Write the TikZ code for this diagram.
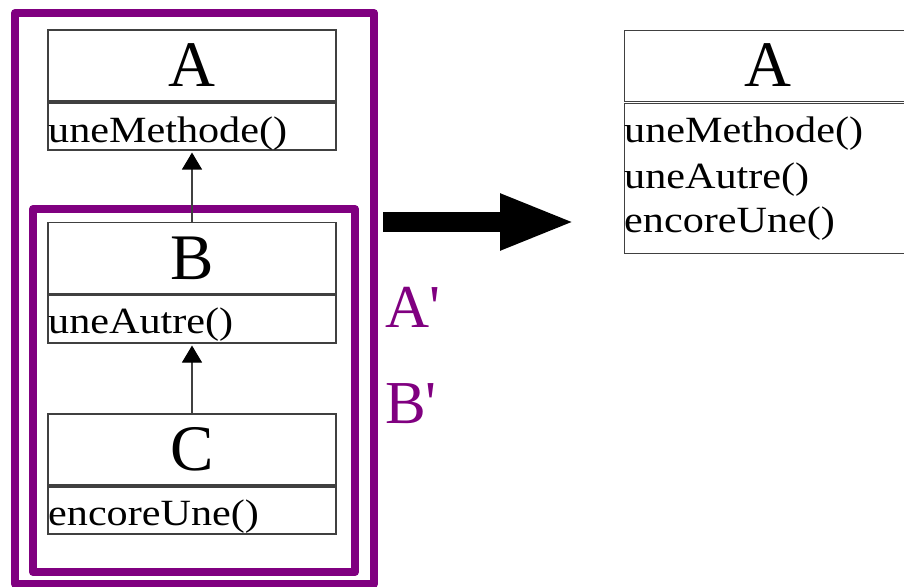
\documentclass[tikz,border=0pt]{standalone}
\usepackage{fontspec}
\setmainfont{Liberation Serif}
\newfontfamily\methfont[FakeStretch=1.14]{Liberation Serif}
\newfontfamily\labelfont[Ligatures=TeXOff]{Liberation Serif}
\usetikzlibrary{arrows.meta}
\definecolor{umlpurple}{HTML}{800080}
\definecolor{umlgray}{HTML}{404040}
\tikzset{
  classbox/.style={draw=umlgray, line width=1.1bp, inner sep=0pt, minimum width=288bp},
  titletext/.style={inner sep=0pt, font=\fontsize{65bp}{65bp}\selectfont},
  methtext/.style={inner sep=0pt, anchor=base west, font=\methfont\fontsize{37bp}{37bp}\selectfont},
  group/.style={draw=umlpurple, line width=8bp, line join=round},
  grouplabel/.style={inner sep=0pt, anchor=base west, text=umlpurple, font=\labelfont\fontsize{61bp}{61bp}\selectfont},
  inherit/.style={draw=umlgray, line width=1.1bp, -{Triangle[width=20bp 0,length=17bp 0,color=black,fill=black]}, shorten >=2bp},
  bigarrow/.style={draw=black, line width=20bp, -{Triangle[width=51bp 0,length=76bp 0]}}
}
\begin{document}
\begin{tikzpicture}[x=1bp,y=-1bp]
\useasboundingbox (0,0) rectangle (904,587);
\clip (0,0) rectangle (904,587);
% group frames
\draw[group] (15,13) rectangle (374,584);
\draw[group] (33,209) rectangle (355,572);
% class A
\node[classbox, minimum height=71bp] (Ah) at (192,65.5) {};
\node[titletext] at (Ah.center) {A};
\node[classbox, minimum height=47bp] (Am) at (192,126.5) {};
\node[methtext] (Amt) at (48,143) {uneMethode()};
% class B
\node[classbox, minimum height=71bp] (Bh) at (192,258) {};
\node[titletext] at (Bh.center) {B};
\node[classbox, minimum height=48bp] (Bm) at (192,319) {};
\node[methtext] (Bmt) at (48,333) {uneAutre()};
% class C
\node[classbox, minimum height=71bp] (Ch) at (192,449.5) {};
\node[titletext] at (Ch.center) {C};
\node[classbox, minimum height=47bp] (Cm) at (192,510.5) {};
\node[methtext] (Cmt) at (48,525) {encoreUne()};
% inheritance
\draw[inherit] (Bh.north) -- (Am.south);
\draw[inherit] (Ch.north) -- (Bm.south);
% labels
\node[grouplabel] (Ap) at (385,327) {A'};
\node[grouplabel] (Bp) at (385,423) {B'};
% big arrow
\coordinate (arrS) at (383,222);
\coordinate (arrE) at (576,222);
\draw[bigarrow] (arrS) -- (arrE);
% merged class A
\node[classbox, minimum width=300bp, minimum height=71bp, anchor=north west] (Rh) at (624,30) {};
\node[titletext] at (768,65.5) {A};
\node[classbox, minimum width=300bp, minimum height=150bp, anchor=north west] (Rm) at (624,103) {};
\node[methtext] (R1) at (624,143) {uneMethode()};
\node[methtext] (R2) at (624,189) {uneAutre()};
\node[methtext] (R3) at (624,233) {encoreUne()};
\end{tikzpicture}
\end{document}
